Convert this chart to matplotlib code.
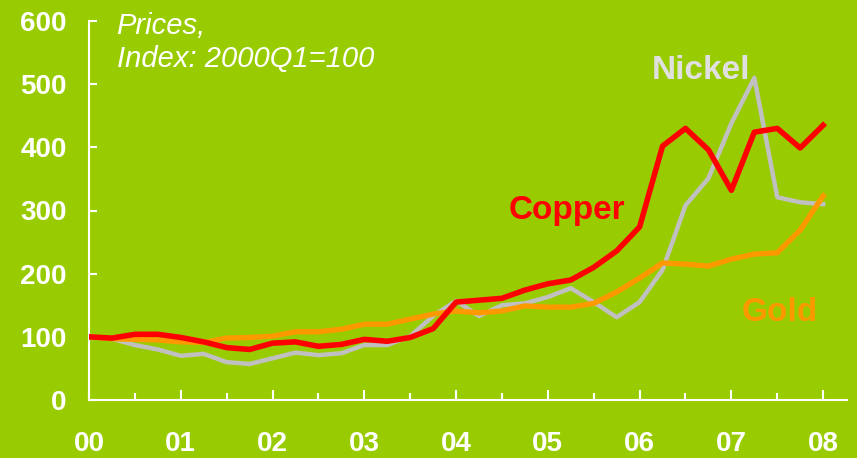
import numpy as np
import matplotlib
matplotlib.use("Agg")
import matplotlib.pyplot as plt

# quarterly data, 2000Q1 .. 2008Q1, index 2000Q1 = 100
quarters = np.arange(33) / 4.0
year_labels = ["00", "01", "02", "03", "04", "05", "06", "07", "08"]

nickel = [100, 97, 87, 80, 70, 73, 60, 57, 66, 75, 71, 74, 87, 87, 101, 133,
          157, 133, 150, 153, 163, 177, 155, 131, 155, 206, 308, 351, 438, 510,
          321, 313, 310]
gold = [100, 97, 96, 95, 92, 91, 98, 99, 101, 108, 108, 112, 120, 120, 128, 136,
        141, 138, 141, 149, 147, 147, 153, 171, 193, 217, 215, 212, 223, 231,
        233, 269, 323]
copper = [100, 98, 104, 104, 99, 92, 83, 80, 90, 92, 85, 88, 96, 93, 99, 113,
          155, 158, 161, 174, 184, 190, 210, 236, 274, 402, 430, 396, 332, 424,
          430, 399, 435]

bg = "#99cc00"

fig = plt.figure(figsize=(8.57, 4.58), dpi=100)
fig.patch.set_facecolor(bg)
ax = fig.add_axes([89 / 857, 1 - 400 / 458, 758 / 857, 379 / 458])
ax.set_facecolor(bg)

ax.plot(quarters, nickel, color="#c0c0c0", lw=3.2, zorder=2)
ax.plot(quarters, gold, color="#ff9900", lw=3.8, zorder=3)
ax.plot(quarters, copper, color="#ff0000", lw=4, zorder=4)

ax.set_xlim(0, 8.26)
ax.set_ylim(0, 600)

# only the left and bottom axis lines, in white
for side in ["top", "right"]:
    ax.spines[side].set_visible(False)
for side in ["left", "bottom"]:
    ax.spines[side].set_color("white")
    ax.spines[side].set_linewidth(1.5)

ax.set_xticks(np.arange(9))
ax.set_xticks(np.arange(0.5, 8, 1), minor=True)
ax.set_xticklabels(year_labels)
ax.set_yticks(np.arange(0, 601, 100))

ax.tick_params(axis="x", which="major", direction="in", length=7, width=1.5,
               color="white", pad=22)
ax.tick_params(axis="x", which="minor", direction="in", length=5, width=1.5,
               color="white")
ax.tick_params(axis="y", direction="in", length=6, width=1.5, color="white", pad=16)
for lab in ax.get_xticklabels() + ax.get_yticklabels():
    lab.set_fontfamily("Liberation Sans")
    lab.set_fontweight("bold")
    lab.set_fontsize(20)
    lab.set_color("white")

# series labels
ax.text(6.67, 522, "Nickel", color="#e0e0e0", fontsize=24, fontweight="bold",
        family="Liberation Sans", ha="center", va="center")
ax.text(5.21, 300, "Copper", color="#ff0000", fontsize=24, fontweight="bold",
        family="Liberation Sans", ha="center", va="center")
ax.text(7.53, 138, "Gold", color="#ff9900", fontsize=24, fontweight="bold",
        family="Liberation Sans", ha="center", va="center")

ax.text(0.3, 614, "Prices,\nIndex: 2000Q1=100", color="white", fontsize=21,
        style="italic", family="Liberation Sans", ha="left", va="top",
        linespacing=1.22)

fig.savefig("out.png", dpi=100, facecolor=bg)
